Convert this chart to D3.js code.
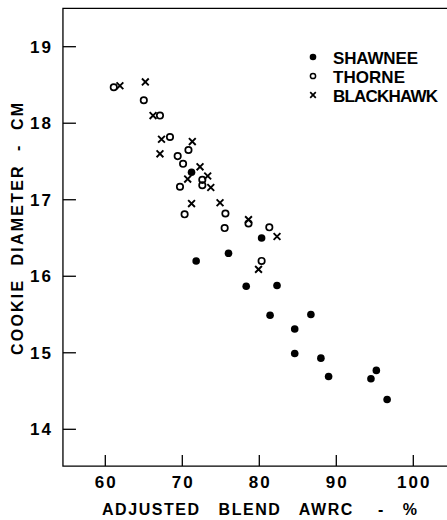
<!DOCTYPE html>
<html>
<head>
  <meta charset="utf-8">
  <title>Cookie diameter vs adjusted blend AWRC</title>
  <script src="https://d3js.org/d3.v7.min.js"></script>
  <style>
    body {
      margin: 0;
      background-color: #fff;
    }
    text {
      font-family: "Liberation Sans", Arial, sans-serif;
      font-weight: bold;
      fill: #000;
    }
  </style>
</head>
<body>
  <div id="chart"></div>

  <script>
    // data: [AWRC %, diameter cm]
    const shawnee = [
      [71.2, 17.36], [71.8, 16.20], [76.0, 16.30], [80.3, 16.50], [78.3, 15.87],
      [82.3, 15.88], [81.4, 15.49], [86.7, 15.50], [84.6, 15.31], [84.6, 14.99],
      [88.0, 14.93], [89.0, 14.69], [94.5, 14.66], [95.2, 14.77], [96.6, 14.39]
    ];
    const thorne = [
      [61.1, 18.47], [65.0, 18.30], [67.1, 18.10], [68.4, 17.82], [69.4, 17.57],
      [70.1, 17.47], [70.8, 17.65], [69.7, 17.17], [70.3, 16.81], [72.6, 17.26],
      [72.6, 17.19], [75.6, 16.82], [75.5, 16.63], [78.6, 16.69], [81.3, 16.64],
      [80.3, 16.20]
    ];
    const blackhawk = [
      [61.9, 18.49], [65.2, 18.54], [66.2, 18.10], [67.3, 17.79], [67.1, 17.60],
      [71.3, 17.76], [72.3, 17.43], [70.7, 17.27], [73.3, 17.31], [73.7, 17.16],
      [71.2, 16.95], [74.9, 16.96], [78.6, 16.74], [82.3, 16.52], [79.9, 16.09]
    ];
    const xTicks = [60, 70, 80, 90, 100];
    const yTicks = [14, 15, 16, 17, 18, 19];
    const legendNames = ["SHAWNEE", "THORNE", "BLACKHAWK"];

    const width = 447, height = 520;

    const svg = d3.select("#chart").append("svg")
      .attr("width", width)
      .attr("height", height);

    const x = d3.scaleLinear().domain([60, 100]).range([105.3, 413.3]);
    const y = d3.scaleLinear().domain([14, 19]).range([429.3, 46.7]);

    const xMin = 54.5, xMax = 105;
    const yMin = 13.52, yMax = 19.5;

    // frame: left axis, top line, bottom axis
    svg.append("path")
      .attr("d", `M${x(xMax)},${y(yMax)} H${x(xMin)} V${y(yMin)} H${x(xMax)}`)
      .attr("fill", "none")
      .attr("stroke", "#000")
      .attr("stroke-width", 1.3);

    // y ticks (inward)
    svg.selectAll(".ytick").data(yTicks).enter().append("line")
      .attr("x1", x(xMin)).attr("x2", x(xMin) + 13)
      .attr("y1", d => y(d)).attr("y2", d => y(d))
      .attr("stroke", "#000").attr("stroke-width", 1.3);

    svg.selectAll(".ylab").data(yTicks).enter().append("text")
      .attr("x", 53)
      .attr("y", d => y(d) + 6)
      .attr("text-anchor", "end")
      .style("font-size", "17px")
      .style("letter-spacing", "2px")
      .text(d => d);

    // x ticks (inward)
    svg.selectAll(".xtick").data(xTicks).enter().append("line")
      .attr("x1", d => x(d)).attr("x2", d => x(d))
      .attr("y1", y(yMin)).attr("y2", y(yMin) - 11)
      .attr("stroke", "#000").attr("stroke-width", 1.3);

    svg.selectAll(".xlab").data(xTicks).enter().append("text")
      .attr("x", d => x(d) + 1)
      .attr("y", 488)
      .attr("text-anchor", "middle")
      .style("font-size", "17px")
      .style("letter-spacing", "2px")
      .text(d => d);

    // axis titles
    svg.append("text")
      .attr("x", 102)
      .attr("y", 515)
      .attr("textLength", 315)
      .attr("lengthAdjust", "spacing")
      .style("white-space", "pre")
      .style("font-size", "16px")
      .text("ADJUSTED   BLEND   AWRC    -   %");

    svg.append("text")
      .attr("transform", "translate(23,355) rotate(-90)")
      .attr("textLength", 252)
      .attr("lengthAdjust", "spacing")
      .style("white-space", "pre")
      .style("font-size", "16px")
      .text("COOKIE  DIAMETER  -  CM");

    // marks
    svg.selectAll(".shawnee").data(shawnee).enter().append("circle")
      .attr("cx", d => x(d[0])).attr("cy", d => y(d[1]))
      .attr("r", 3.8).attr("fill", "#000");

    svg.selectAll(".thorne").data(thorne).enter().append("circle")
      .attr("cx", d => x(d[0])).attr("cy", d => y(d[1]))
      .attr("r", 3.2).attr("fill", "none")
      .attr("stroke", "#000").attr("stroke-width", 1.7);

    const cross = "M-3.4,-3.4L3.4,3.4M-3.4,3.4L3.4,-3.4";
    svg.selectAll(".blackhawk").data(blackhawk).enter().append("path")
      .attr("transform", d => `translate(${x(d[0])},${y(d[1])})`)
      .attr("d", cross)
      .attr("fill", "none")
      .attr("stroke", "#000").attr("stroke-width", 1.9);

    // legend
    const legendWidths = [85, 72, 105];
    const legend = svg.append("g").attr("transform", "translate(313,57)");
    const row = legend.selectAll("g").data(legendNames).enter().append("g")
      .attr("transform", (d, i) => `translate(0,${i * 19})`);
    row.append("text")
      .attr("x", 20).attr("y", 6.5)
      .attr("textLength", (d, i) => legendWidths[i])
      .attr("lengthAdjust", "spacing")
      .style("font-size", "17px")
      .text(d => d);
    row.filter((d, i) => i === 0).append("circle")
      .attr("r", 3.3).attr("fill", "#000");
    row.filter((d, i) => i === 1).append("circle")
      .attr("r", 2.6).attr("fill", "none").attr("stroke", "#000").attr("stroke-width", 1.5);
    row.filter((d, i) => i === 2).append("path")
      .attr("d", "M-2.8,-2.8L2.8,2.8M-2.8,2.8L2.8,-2.8")
      .attr("fill", "none").attr("stroke", "#000").attr("stroke-width", 1.7);
  </script>
</body>
</html>
